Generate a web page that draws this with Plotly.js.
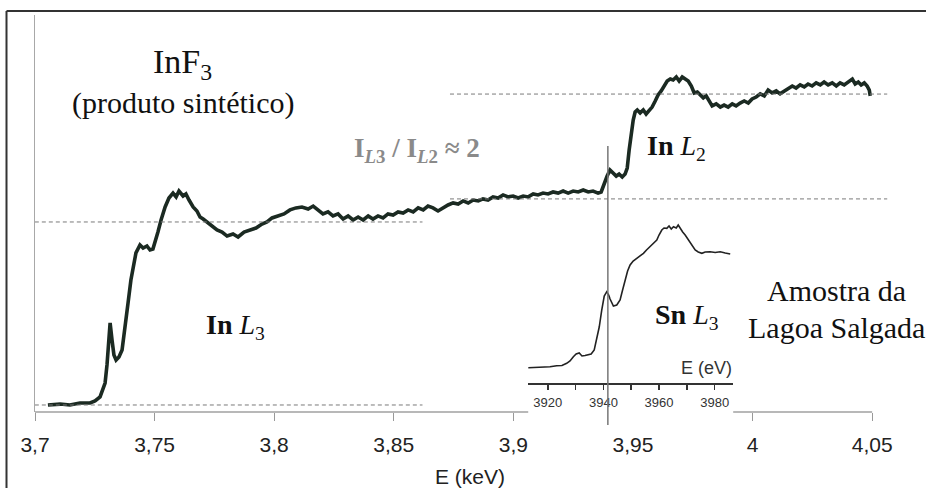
<!DOCTYPE html>
<html>
<head>
<meta charset="utf-8">
<script src="https://cdn.plot.ly/plotly-3.0.1.min.js"></script>
<style>html,body{margin:0;padding:0;background:#fff;}#chart{width:926px;height:488px;}</style>
</head>
<body>
<div id="chart"></div>
<script>
// ---- Main spectrum: InF3, In L3 / L2 edges (E in keV, normalized absorbance)
const energyKeV = [3.7054,3.7105,3.7146,3.7188,3.7230,3.7251,3.7272,3.7284,3.7293,3.7301,3.7310,3.7314,3.7322,3.7330,3.7339,3.7351,3.7364,3.7376,3.7389,3.7401,3.7410,3.7422,3.7439,3.7452,3.7468,3.7481,3.7493,3.7506,3.7514,3.7527,3.7544,3.7560,3.7577,3.7590,3.7602,3.7619,3.7631,3.7644,3.7661,3.7677,3.7690,3.7703,3.7719,3.7740,3.7761,3.7782,3.7803,3.7828,3.7849,3.7874,3.7899,3.7924,3.7949,3.7970,3.7991,3.8016,3.8041,3.8066,3.8091,3.8116,3.8142,3.8163,3.8183,3.8204,3.8225,3.8246,3.8267,3.8288,3.8309,3.8330,3.8351,3.8372,3.8393,3.8413,3.8434,3.8455,3.8476,3.8497,3.8518,3.8539,3.8560,3.8581,3.8602,3.8623,3.8643,3.8664,3.8685,3.8706,3.8727,3.8748,3.8769,3.8790,3.8811,3.8832,3.8853,3.8873,3.8894,3.8915,3.8936,3.8957,3.8978,3.8999,3.9020,3.9041,3.9062,3.9083,3.9103,3.9124,3.9145,3.9166,3.9187,3.9208,3.9229,3.9250,3.9271,3.9292,3.9313,3.9333,3.9354,3.9367,3.9379,3.9392,3.9404,3.9417,3.9430,3.9442,3.9455,3.9467,3.9476,3.9484,3.9493,3.9501,3.9509,3.9518,3.9530,3.9543,3.9555,3.9568,3.9580,3.9593,3.9605,3.9618,3.9631,3.9643,3.9656,3.9668,3.9681,3.9693,3.9706,3.9718,3.9731,3.9744,3.9756,3.9769,3.9781,3.9794,3.9806,3.9819,3.9831,3.9848,3.9865,3.9881,3.9898,3.9915,3.9931,3.9948,3.9965,3.9982,3.9998,4.0015,4.0032,4.0049,4.0065,4.0082,4.0099,4.0115,4.0132,4.0149,4.0166,4.0182,4.0199,4.0216,4.0232,4.0249,4.0266,4.0283,4.0299,4.0316,4.0333,4.0350,4.0366,4.0383,4.0400,4.0417,4.0429,4.0442,4.0454,4.0467,4.0479,4.0488,4.0492];
const absorbance = [0,0.005,0,0.011,0.011,0.022,0.044,0.082,0.120,0.219,0.383,0.448,0.355,0.273,0.246,0.262,0.301,0.410,0.557,0.683,0.754,0.831,0.874,0.858,0.869,0.847,0.852,0.902,0.945,1.011,1.082,1.131,1.158,1.137,1.169,1.142,1.153,1.120,1.082,1.060,1.027,1.016,1.000,0.978,0.956,0.945,0.923,0.934,0.918,0.945,0.956,0.967,0.989,1.000,1.022,1.033,1.044,1.066,1.077,1.082,1.071,1.087,1.066,1.044,1.055,1.033,1.044,1.016,1.033,1.011,1.027,1.011,1.033,1.016,1.033,1.022,1.044,1.038,1.055,1.049,1.066,1.055,1.077,1.066,1.087,1.077,1.060,1.077,1.093,1.104,1.098,1.115,1.104,1.120,1.115,1.126,1.120,1.137,1.131,1.148,1.137,1.142,1.131,1.142,1.137,1.153,1.148,1.158,1.153,1.164,1.158,1.169,1.158,1.169,1.164,1.175,1.164,1.169,1.158,1.164,1.213,1.251,1.284,1.268,1.251,1.262,1.246,1.262,1.295,1.393,1.492,1.557,1.601,1.612,1.596,1.612,1.590,1.612,1.628,1.661,1.694,1.716,1.749,1.770,1.781,1.776,1.792,1.770,1.792,1.781,1.770,1.743,1.705,1.710,1.694,1.678,1.689,1.656,1.634,1.645,1.628,1.639,1.628,1.645,1.634,1.650,1.661,1.650,1.672,1.683,1.700,1.689,1.721,1.705,1.716,1.700,1.716,1.732,1.743,1.732,1.749,1.738,1.754,1.743,1.760,1.749,1.765,1.749,1.760,1.743,1.760,1.749,1.765,1.781,1.754,1.765,1.749,1.760,1.743,1.721,1.689];

// ---- Edge-step reference levels (dashed)
const l3Range = [3.697, 3.862];
const l3Levels = [0, 1.0];
const l2Range = [3.8735, 4.0563];
const l2Levels = [1.126, 1.699];

// ---- Inset: Sn L3 edge of Lagoa Salgada sample (E in eV)
const snEnergyEV = [3913.0,3915.4,3918.4,3920.8,3923.2,3925.1,3926.8,3928.0,3929.2,3930.2,3931.3,3932.3,3933.4,3934.5,3935.6,3936.7,3937.6,3938.5,3939.4,3940.3,3941.2,3941.9,3942.4,3943.6,3944.8,3946.0,3946.9,3947.8,3948.7,3949.6,3950.7,3952.0,3953.2,3954.4,3955.5,3956.8,3957.9,3959.2,3960.0,3961.0,3961.8,3962.8,3963.6,3964.4,3965.2,3966.2,3966.9,3967.6,3968.5,3969.4,3970.3,3971.2,3972.1,3973.0,3974.1,3975.4,3976.6,3978.4,3980.2,3982.0,3983.8,3985.6];
const snAbs = [0.153,0.155,0.163,0.162,0.173,0.175,0.197,0.22,0.263,0.29,0.30,0.27,0.275,0.28,0.29,0.33,0.43,0.56,0.73,0.87,0.913,0.88,0.84,0.77,0.78,0.83,0.93,1.03,1.12,1.18,1.22,1.247,1.27,1.297,1.33,1.363,1.39,1.43,1.48,1.53,1.55,1.547,1.57,1.54,1.563,1.55,1.58,1.547,1.51,1.48,1.44,1.397,1.36,1.33,1.31,1.297,1.31,1.313,1.305,1.313,1.30,1.29];

// ---- Axis ticks
const mainTickVals = [3.7,3.75,3.8,3.85,3.9,3.95,4,4.05];
const mainTickText = ['3,7','3,75','3,8','3,85','3,9','3,95','4','4,05'];
const mainTickMarks = [3.7,3.75,3.8,3.85,3.9,4,4.05];
const insetTickVals = [3920,3940,3960,3980];
const insetMinorVals = [3930,3950,3970];
const snEdgeKeV = 3.9395;

const xRange = [3.7, 4.07];
const yRange = [-0.0383, 2.131];

const dashStyle = {color:'#7a7a7a', width:1, dash:'4px,3px'};
const traces = [
  {x:[l3Range[0],l3Range[1]], y:[l3Levels[0],l3Levels[0]], xaxis:'x3', yaxis:'y', mode:'lines', line:dashStyle, hoverinfo:'skip'},
  {x:[l3Range[0],l3Range[1]], y:[l3Levels[1],l3Levels[1]], xaxis:'x3', yaxis:'y', mode:'lines', line:dashStyle, hoverinfo:'skip'},
  {x:[l2Range[0],l2Range[1]], y:[l2Levels[0],l2Levels[0]], xaxis:'x3', yaxis:'y', mode:'lines', line:dashStyle, hoverinfo:'skip'},
  {x:[l2Range[0],l2Range[1]], y:[l2Levels[1],l2Levels[1]], xaxis:'x3', yaxis:'y', mode:'lines', line:dashStyle, hoverinfo:'skip'},
  {x:energyKeV, y:absorbance, xaxis:'x', yaxis:'y', mode:'lines', line:{color:'#1b2a22', width:3.6}, hoverinfo:'skip'},
  {x:snEnergyEV, y:snAbs, xaxis:'x2', yaxis:'y2', mode:'lines', line:{color:'#222', width:1.6}, hoverinfo:'skip'}
];

const serif = 'Liberation Serif, Times New Roman, serif';
const sans = 'Liberation Sans, Arial, sans-serif';
const ann = (text, x, y, size, extra) => Object.assign({text, x, y, xref:'paper', yref:'paper', showarrow:false, xanchor:'center', yanchor:'middle', font:{family:serif, size, color:'#111'}}, extra||{});

const layout = {
  width:926, height:488,
  margin:{l:35, r:6, t:15, b:76},
  paper_bgcolor:'#fff', plot_bgcolor:'#fff',
  showlegend:false,
  xaxis:{range:xRange, showgrid:false, zeroline:false, showline:false, ticks:'', tickmode:'array', tickvals:mainTickVals, ticktext:mainTickText, tickfont:{family:sans, size:21, color:'#222'}, ticklabelstandoff:18},
  xaxis3:{range:xRange, overlaying:'x', anchor:'y', side:'bottom', showgrid:false, zeroline:false, showline:false, ticks:'outside', ticklen:8, tickwidth:1, tickcolor:'#999', tickmode:'array', tickvals:mainTickMarks, showticklabels:false},
  yaxis:{range:yRange, showgrid:false, zeroline:false, showline:true, linecolor:'#a8a8a8', linewidth:1, ticks:'', showticklabels:false},
  xaxis2:{domain:[0.5571,0.7887], anchor:'y2', range:[3912.9,3986.6], showgrid:false, zeroline:false, showline:true, linecolor:'#333', linewidth:2, ticks:'outside', ticklen:5, tickwidth:1.5, tickcolor:'#333', tickmode:'array', tickvals:insetTickVals, tickfont:{family:sans, size:13, color:'#333'}, ticklabelstandoff:1,
    minor:{tickmode:'array', tickvals:insetMinorVals, ticks:'outside', ticklen:5, tickwidth:1.5, tickcolor:'#333'}},
  yaxis2:{domain:[0.0730,0.534], anchor:'x2', range:[0,1.83], visible:false},
  shapes:[
    {type:'line', xref:'x', yref:'paper', x0:xRange[0], x1:3.9062, y0:0, y1:0, line:{color:'#a0a0a0', width:1.3}},
    {type:'line', xref:'x', yref:'paper', x0:3.9919, x1:4.05, y0:0, y1:0, line:{color:'#a0a0a0', width:1.3}},
    {type:'line', xref:'x', yref:'paper', x0:snEdgeKeV, x1:snEdgeKeV, y0:-0.0327, y1:0.670, line:{color:'#777', width:1.5}, layer:'above'},
    {type:'line', xref:'paper', yref:'paper', x0:-0.0322, x1:-0.0322, y0:1.0101, y1:-0.2, line:{color:'#333', width:2}},
    {type:'line', xref:'paper', yref:'paper', x0:-0.0322, x1:1.01, y0:1.0101, y1:1.0101, line:{color:'#333', width:2}}
  ],
  annotations:[
    ann('InF<sub>3</sub>', 0.1672, 0.8766, 34),
    ann('(produto sintético)', 0.1672, 0.7783, 30),
    ann('<b>I<sub><i>L</i>3</sub> / I<sub><i>L</i>2</sub> ≈ 2</b>', 0.4316, 0.660, 27, {font:{family:serif, size:27, color:'#8a8a8a'}}),
    ann('<b>In</b> <i>L</i><sub>3</sub>', 0.226, 0.2166, 28),
    ann('<b>In</b> <i>L</i><sub>2</sub>', 0.7243, 0.665, 28),
    ann('<b>Sn</b> <i>L</i><sub>3</sub>', 0.7367, 0.2418, 28),
    ann('Amostra da', 0.9051, 0.3073, 30),
    ann('Lagoa Salgada', 0.9051, 0.2116, 30),
    ann('E (eV)', 0.7898, 0.1108, 18, {xanchor:'right', font:{family:sans, size:18, color:'#333'}}),
    ann('E (keV)', 0.4915, -0.1637, 21, {font:{family:sans, size:21, color:'#222'}})
  ]
};

Plotly.newPlot('chart', traces, layout, {displayModeBar:false, staticPlot:true});
</script>
</body>
</html>
